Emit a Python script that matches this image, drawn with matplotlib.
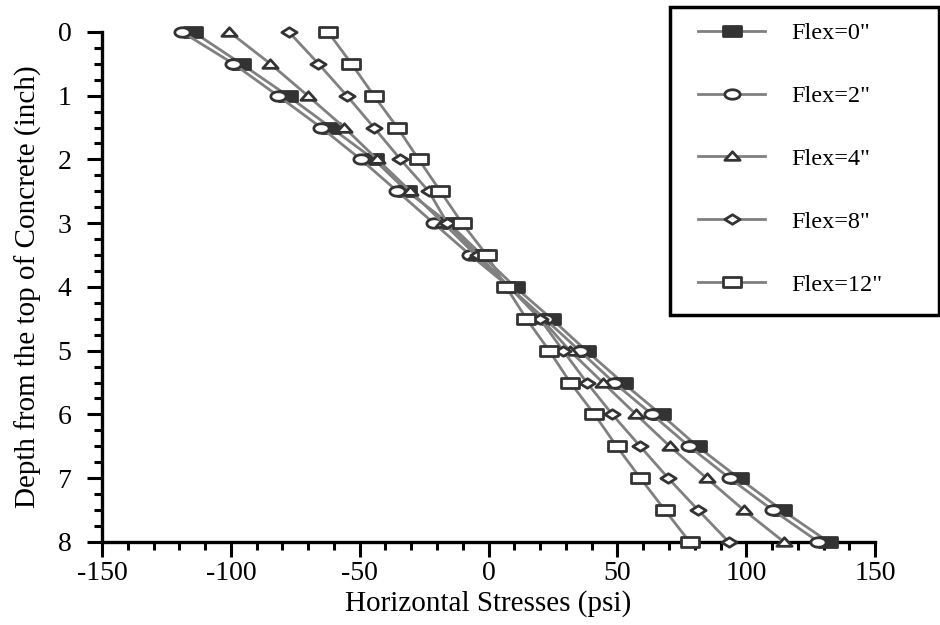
import numpy as np
import matplotlib
matplotlib.use("Agg")
import matplotlib.pyplot as plt
from matplotlib.path import Path
from matplotlib.patches import Rectangle
from matplotlib.ticker import MultipleLocator

depth = [0, 0.5, 1, 1.5, 2, 2.5, 3, 3.5, 4, 4.5, 5, 5.5, 6, 6.5, 7, 7.5, 8]

flex_0 = [-114.6, -96, -78, -61.2, -44.5, -31.6, -15.5, -2.6, 10.2, 24.4,
          37.9, 52, 66.9, 81, 97.1, 113.8, 131.9]
flex_2 = [-119, -99, -81.8, -65, -49.6, -35.4, -21.3, -7.1, 8, 21.8,
          35.3, 48.6, 63.4, 77.8, 93.5, 110.2, 128]
flex_4 = [-100.6, -84.7, -70.2, -56, -43.2, -30.3, -17.5, -5, 8, 20.5,
          31.5, 44.3, 57.2, 70.3, 84.6, 99, 114.6]
flex_8 = [-77.5, -66, -55, -44.5, -34.2, -23.2, -16, -4, 8, 19.9,
          28.9, 38.1, 48, 58.8, 69.7, 81.3, 93.2]
flex_12 = [-62.3, -53.2, -44.5, -35.4, -27.1, -18.7, -10.3, -0.7, 6.8, 14.7,
           23.5, 31.7, 41.1, 49.7, 58.9, 68.4, 78]

labels = ['Flex=0"', 'Flex=2"', 'Flex=4"', 'Flex=8"', 'Flex=12"']

# markers in the source are wider than tall
t = np.linspace(0, 2 * np.pi, 40)
rect = Path([(-1, -0.55), (1, -0.55), (1, 0.55), (-1, 0.55), (-1, -0.55)], closed=True)
ellipse = Path(np.column_stack([np.cos(t), 0.62 * np.sin(t)]), closed=True)
tri = Path([(-1, -0.5), (1, -0.5), (0, 0.62), (-1, -0.5)], closed=True)
diam = Path([(-1, 0), (0, 0.62), (1, 0), (0, -0.62), (-1, 0)], closed=True)

plt.rcParams["font.family"] = ["Liberation Serif", "DejaVu Serif"]
plt.rcParams["axes.unicode_minus"] = False

fig = plt.figure(figsize=(9.4, 6.25), dpi=100)
ax = fig.add_axes([0.1085, 0.133, 0.8225, 0.816])

series = [flex_0, flex_2, flex_4, flex_8, flex_12]
markers = [rect, ellipse, tri, diam, rect]
faces = ["#333333", "white", "white", "white", "white"]
sizes = [13, 11, 11, 11, 13]
for vals, mk, fc, sz, lab in zip(series, markers, faces, sizes, labels):
    ax.plot(vals, depth, color="#808080", lw=2, marker=mk, ms=sz,
            mfc=fc, mec="#333333", mew=2, label=lab, clip_on=False, zorder=3)

ax.set_xlim(-150, 150)
ax.set_ylim(8, 0)
ax.xaxis.set_major_locator(MultipleLocator(50))
ax.xaxis.set_minor_locator(MultipleLocator(10))
ax.yaxis.set_major_locator(MultipleLocator(1))
ax.yaxis.set_minor_locator(MultipleLocator(0.25))
for s in ["top", "right"]:
    ax.spines[s].set_visible(False)
for s in ["left", "bottom"]:
    ax.spines[s].set_linewidth(2.4)
ax.tick_params(which="major", length=11, width=2.2, labelsize=20, direction="out")
ax.tick_params(which="minor", length=6, width=2.2, direction="out")
ax.tick_params(axis="x", pad=3)
ax.tick_params(axis="y", pad=11)
ax.set_xlabel("Horizontal Stresses (psi)", fontsize=21, labelpad=3)
ax.set_ylabel("Depth from the top of Concrete (inch)", fontsize=21, labelpad=11)

# legend box drawn separately so it can sit where the original one does
ax.add_patch(Rectangle((0.735, 0.445), 0.347, 0.604, transform=ax.transAxes,
                       fill=True, facecolor="white", edgecolor="black", lw=2.5,
                       clip_on=False, zorder=4))
leg = ax.legend(loc="upper left", bbox_to_anchor=(0.771, 1.019), fontsize=17.5,
                frameon=False, handlelength=2.75, labelspacing=1.68, borderpad=0,
                handletextpad=1.1, borderaxespad=0)
leg.set_zorder(5)

plt.savefig("out.png", dpi=100)
